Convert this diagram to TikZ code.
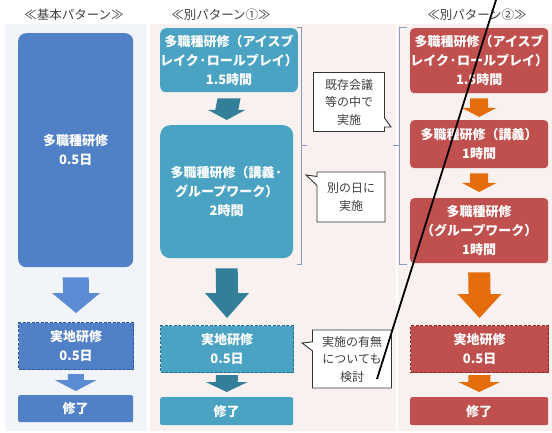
\documentclass[tikz,border=0pt]{standalone}
\usepackage{fontspec}
\setmainfont{Noto Sans CJK JP}
\usetikzlibrary{calc,shapes.callouts}
\definecolor{pblue}{HTML}{F1F5FA}
\definecolor{ppink}{HTML}{F8F1F0}
\definecolor{cblue}{HTML}{5080C6}
\definecolor{ablue}{HTML}{5B8BD3}
\definecolor{dblue}{HTML}{2C5AA0}
\definecolor{cteal}{HTML}{4BA3C3}
\definecolor{ateal}{HTML}{337F9A}
\definecolor{dteal}{HTML}{25708C}
\definecolor{cred}{HTML}{C0504D}
\definecolor{ared}{HTML}{E46C0A}
\definecolor{dred}{HTML}{8E2E2B}
\definecolor{brk}{HTML}{8A9BBF}
\definecolor{ttl}{HTML}{404040}
\newcommand\blockarr[6]{%
  \fill[#6] ($(#1)+(-#3,0)$) -- ($(#1)+(#3,0)$) -- ($(#2)+(#3,-#5)$) -- ($(#2)+(#4,-#5)$) -- (#2) -- ($(#2)+(-#4,-#5)$) -- ($(#2)+(-#3,-#5)$) -- cycle;}
\tikzset{
  box/.style={rectangle, anchor=north west, inner sep=0pt, text=white, font=\bfseries\fontsize{13}{19}\selectfont, align=center},
  boxrr/.style={box, rounded corners=#1},
  dbox/.style={box, draw, line width=1.1pt, dash pattern=on 3pt off 1.5pt},
  ttlnode/.style={text=ttl, font=\fontsize{12.5}{14}\selectfont, inner sep=0pt},
  callbox/.style={rectangle callout, draw=black!80, line width=0.9pt, fill=white, text=ttl, font=\fontsize{12}{17.5}\selectfont, align=center, inner sep=0pt, callout pointer width=9pt},
  brkline/.style={draw=brk, line width=0.9pt}
}
\begin{document}
\begin{tikzpicture}[x=1pt,y=-1pt]
\useasboundingbox (0,0) rectangle (552,433);
\fill[white] (0,0) rectangle (552,433);
% panels
\fill[pblue] (5,24) rectangle (147,431);
\fill[ppink] (150,24) rectangle (396,431);
\fill[ppink] (398,24) rectangle (552,431);
% titles
\node[ttlnode] (t1) at (74,15) {≪基本パターン≫};
\node[ttlnode] (t2) at (221,15) {≪別パターン①≫};
\node[ttlnode] (t3) at (477,15) {≪別パターン②≫};
% column 1
\node[boxrr=8pt, fill=cblue, minimum width=115pt, minimum height=234pt] (a1) at (18,33) {多職種研修\\0.5日};
\node[dbox, fill=cblue, draw=dblue, minimum width=115pt, minimum height=47pt] (a2) at (18,322) {実地研修\\0.5日};
\node[boxrr=2pt, fill=cblue, minimum width=115pt, minimum height=27pt] (a3) at (18,395) {修了};
% column 2
\node[boxrr=6pt, fill=cteal, minimum width=133pt, minimum height=64pt] (b1) at (160,28) {多職種研修（アイスブ\\レイク·ロールプレイ）\\1.5時間};
\node[boxrr=10pt, fill=cteal, minimum width=133pt, minimum height=133pt] (b2) at (160,125) {多職種研修（講義·\\グループワーク）\\2時間};
\node[dbox, fill=cteal, draw=dteal, minimum width=133pt, minimum height=47pt] (b3) at (160,325) {実地研修\\0.5日};
\node[boxrr=2pt, fill=cteal, minimum width=133pt, minimum height=28pt] (b4) at (160,397) {修了};
% column 3
\node[boxrr=4pt, fill=cred, minimum width=138pt, minimum height=65pt] (c1) at (410,28) {多職種研修（アイスブ\\レイク·ロールプレイ）\\1.5時間};
\node[boxrr=4pt, fill=cred, minimum width=138pt, minimum height=48pt] (c2) at (410,120) {多職種研修（講義）\\1時間};
\node[boxrr=4pt, fill=cred, minimum width=138pt, minimum height=65pt] (c3) at (410,198) {多職種研修\\（グループワーク）\\1時間};
\node[dbox, fill=cred, draw=dred, minimum width=138pt, minimum height=47pt] (c4) at (410,325) {実地研修\\0.5日};
\node[boxrr=2pt, fill=cred, minimum width=138pt, minimum height=28pt] (c5) at (410,397) {修了};
% arrow end points
\path ($(a1.south)+(0,10)$) coordinate (a12s) ($(a2.north)+(0,-9)$) coordinate (a12e)
      ($(a2.south)+(0,4)$) coordinate (a23s) ($(a3.north)+(0,-4)$) coordinate (a23e)
      ($(b1.south)+(0,6)$) coordinate (b12s) ($(b2.north)+(0,-5)$) coordinate (b12e)
      ($(b2.south)+(0,10)$) coordinate (b23s) ($(b3.north)+(0,-7)$) coordinate (b23e)
      ($(b3.south)+(0,2)$) coordinate (b34s) ($(b4.north)+(0,-5)$) coordinate (b34e)
      ($(c1.south)+(0,5)$) coordinate (c12s) ($(c2.north)+(0,-3)$) coordinate (c12e)
      ($(c2.south)+(0,5)$) coordinate (c23s) ($(c3.north)+(0,-6)$) coordinate (c23e)
      ($(c3.south)+(0,9)$) coordinate (c34s) ($(c4.north)+(0,-7)$) coordinate (c34e)
      ($(c4.south)+(0,2)$) coordinate (c45s) ($(c5.north)+(0,-5)$) coordinate (c45e);
\blockarr{a12s}{a12e}{13}{24}{20}{ablue}
\blockarr{a23s}{a23e}{8}{21}{11}{ablue}
\blockarr{b12s}{b12e}{11.5}{18.5}{10}{ateal}
\blockarr{b23s}{b23e}{11}{22}{25}{ateal}
\blockarr{b34s}{b34e}{11}{21}{10}{ateal}
\blockarr{c12s}{c12e}{9}{17}{9}{ared}
\blockarr{c23s}{c23e}{9}{17}{9}{ared}
\blockarr{c34s}{c34e}{11}{22}{24}{ared}
\blockarr{c45s}{c45e}{11}{21}{10}{ared}
% brackets
\draw[brkline] (297,27) -- (301,27) -- (301,264) -- (297,264);
\draw[brkline] (301,145) -- (307,145);
\draw[brkline] (407,27) -- (399,27) -- (399,264) -- (407,264);
\draw[brkline] (399,145) -- (393,145);
% callouts
\node[callbox, minimum width=71pt, minimum height=59pt, callout absolute pointer={(391,127)}] (k1) at (349,102) {既存会議\\等の中で\\実施};
\node[callbox, minimum width=68pt, minimum height=50pt, callout absolute pointer={(306,175)}] (k2) at (351,197) {別の日に\\実施};
\node[callbox, minimum width=79pt, minimum height=58pt, callout absolute pointer={(302,343)}] (k3) at (352,359) {実施の有無\\についても\\検討};
% black line
\coordinate (l1) at (377,379);
\coordinate (l2) at (496,0);
\draw[line width=1.8pt] (l1) -- (l2);
\end{tikzpicture}
\end{document}
